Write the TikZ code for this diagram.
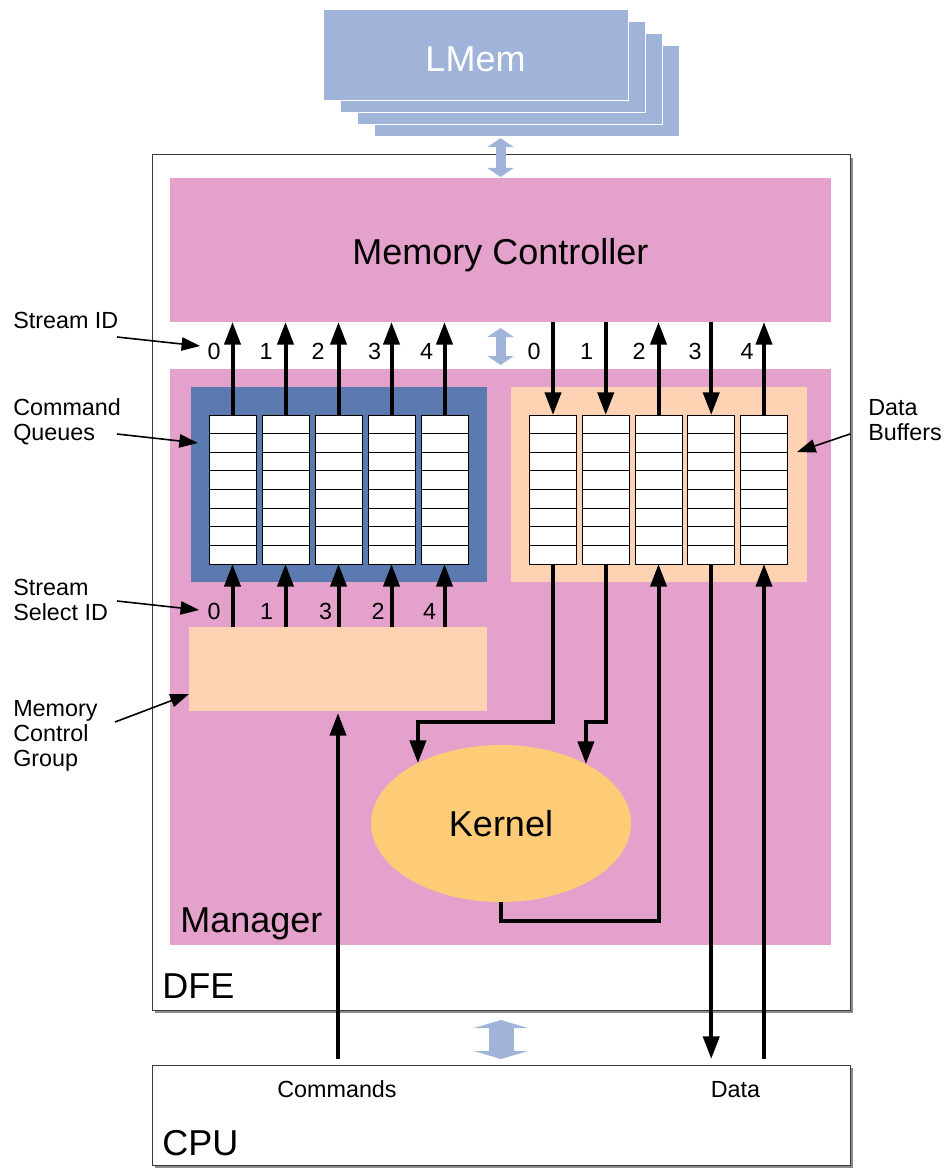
\documentclass[tikz,border=0pt]{standalone}
\usepackage{fontspec}
\setmainfont{Liberation Sans}
\usetikzlibrary{arrows.meta,shapes.geometric,shadows}
\newcommand{\labelfont}{\fontsize{17.5}{19}\selectfont}
\newcommand{\titlefont}{\fontsize{27}{32}\selectfont}
\definecolor{lmemblue}{HTML}{A0B4DA}
\definecolor{ctrlpink}{HTML}{E4A1CB}
\definecolor{queueblue}{HTML}{5B7BB0}
\definecolor{bufpeach}{HTML}{FDD3B4}
\definecolor{kernelgold}{HTML}{FECC77}
\definecolor{framegrey}{HTML}{3A3A3A}

\begin{document}
\begin{tikzpicture}[
  x=0.75pt,
  y=-0.75pt,
  every node/.style={font=\labelfont, black, inner sep=0pt},
  block/.style={inner sep=0pt, outer sep=0pt},
  card/.style={block, fill=white, draw=framegrey, line width=0.75pt,
    drop shadow={shadow xshift=2.25pt, shadow yshift=-2.25pt, fill=black!45, opacity=1}},
  sheet/.style={block, fill=lmemblue, draw=white, line width=0.75pt,
    minimum width=228.75pt, minimum height=68.25pt},
  slot/.style={block, fill=white, draw=black, line width=0.75pt,
    minimum width=35.25pt, minimum height=111.75pt},
  divider/.style={black, line width=0.75pt},
  flow/.style={black, line width=3pt, -{Triangle[length=17pt, width=12pt]}},
  pointer/.style={black, line width=1.2pt, -{Triangle[length=14pt, width=10pt]}},
  link/.style={lmemblue, line width=7.5pt,
    {Triangle[length=6.75pt, width=19.5pt]}-{Triangle[length=6.75pt, width=19.5pt]}},
  widelink/.style={lmemblue, line width=18.75pt,
    {Triangle[length=6pt, width=40.5pt]}-{Triangle[length=6pt, width=40.5pt]}}
]
  % ---- page frame, 946 x 1169 px ----
  \path[use as bounding box] (0,0) rectangle (946,1169);

  % ---- DFE and CPU cards ----
  \node[card, minimum width=523.5pt, minimum height=641.25pt] (dfe) at (501,582.5) {};
  \node[card, minimum width=523.5pt, minimum height=75pt] (cpu) at (501,1115) {};
  \node[anchor=base west, font=\titlefont] (dfelabel) at (162,998) {DFE};
  \node[anchor=base west, font=\titlefont] (cpulabel) at (162,1155) {CPU};

  % ---- LMem stack ----
  \foreach \d in {3,2,1}
    \node[sheet] (sheet\d) at ({475.5+17*\d},{55.5+11.7*\d}) {};
  \node[sheet] (lmem) at (475.5,55.5) {};
  \node[anchor=base, font=\titlefont, text=white] (lmemtext) at (lmem.center |- 0,72) {LMem};

  % ---- memory controller and manager ----
  \node[block, fill=ctrlpink, minimum width=495.75pt, minimum height=108pt] (mc) at (500.5,250) {};
  \node[anchor=base, font=\titlefont] (mctext) at (mc.center |- 0,265) {Memory Controller};
  \node[block, fill=ctrlpink, minimum width=495.75pt, minimum height=432pt] (mgr) at (500.5,657) {};
  \node[anchor=base west, font=\titlefont] (mgrlabel) at (180,932) {Manager};

  % ---- queue and buffer groups ----
  \node[block, fill=queueblue, minimum width=222pt, minimum height=146.25pt] (cq) at (339,484.5) {};
  \node[block, fill=bufpeach, minimum width=222pt, minimum height=146.25pt] (db) at (659,484.5) {};
  \node[block, fill=bufpeach, minimum width=223.5pt, minimum height=63pt] (mcg) at (338,669) {};
  \node[ellipse, block, fill=kernelgold, minimum width=195pt, minimum height=117.75pt,
    font=\titlefont] (kernel) at (501,823.5) {Kernel};

  % ---- slots, eight cells each ----
  \foreach \k in {0,...,4} {
    \node[slot] (q\k) at ({232.5+53*\k},489.5) {};
    \node[slot] (b\k) at ({553+52.75*\k},489.5) {};
    \foreach \r in {1,...,7} {
      \draw[divider] (q\k.north west) ++(0,{18.625*\r}) -- ++(47,0);
      \draw[divider] (b\k.north west) ++(0,{18.625*\r}) -- ++(47,0);
    }
  }

  % ---- stream arrows to and from the memory controller ----
  \foreach \k in {0,...,4} {
    \draw[flow] (q\k.north) -- (q\k.north |- mc.south);
    \draw[flow] (mcg.north -| q\k.south) -- (q\k.south);
  }
  \foreach \k in {0,1,3}
    \draw[flow] (b\k.north |- mc.south) -- (b\k.north);
  \foreach \k in {2,4}
    \draw[flow] (b\k.north) -- (b\k.north |- mc.south);

  % ---- stream numbers ----
  \foreach \n/\x in {0/214,1/266,2/318,3/374.5,4/426.5}
    \node (sid\n) at (\x,351) {\n};
  \foreach \n/\x in {0/534,1/586.5,2/639,3/695,4/747}
    \node (bid\n) at (\x,351) {\n};
  \foreach \n/\x in {0/214,1/266.5,3/325.5,2/378,4/429.5}
    \node (sel\n) at (\x,611.5) {\n};

  % ---- kernel paths ----
  \draw[flow] (b0.south) -- ++(0,158) -| (kernel.144.5);
  \draw[flow] (b1.south) -- ++(0,158) -| (kernel.35.5);
  \draw[flow] (kernel.south) -- ++(0,19) -| (b2.south);

  % ---- host paths ----
  \draw[flow, shorten >=4.5pt] (b3.south) -- (b3.south |- cpu.north);
  \draw[flow, shorten <=4.5pt] (b4.south |- cpu.north) -- (b4.south);
  \draw[flow, shorten <=4.5pt, shorten >=1.5pt] (mcg.south |- cpu.north) -- (mcg.south);
  \node[anchor=base] (cmdlabel) at (337,1097) {Commands};
  \node[anchor=base] (datalabel) at (735.5,1097) {Data};

  % ---- wide links ----
  \draw[link, shorten <=1.5pt, shorten >=0.75pt] (mc.north |- sheet3.south) -- (mc.north);
  \draw[link, shorten <=4.5pt, shorten >=3pt] (mc.south) -- (mgr.north);
  \draw[widelink, shorten <=7.5pt, shorten >=4.5pt] (dfe.south) -- (cpu.north);

  % ---- side labels ----
  \node[anchor=north west] (sidtext) at (13,312) {Stream ID};
  \node[anchor=north west, align=left] (cqtext) at (13,398) {Command\\Queues};
  \node[anchor=north west, align=left] (seltext) at (13,579) {Stream\\Select ID};
  \node[anchor=north west, align=left] (mcgtext) at (13,700) {Memory\\Control\\Group};
  \node[anchor=north west, align=left] (dbtext) at (868,399) {Data\\Buffers};

  \coordinate (sidtail) at (117,337);
  \coordinate (cqtail) at (117,434);
  \coordinate (seltail) at (117,601);
  \coordinate (mcgtail) at (115,722);
  \coordinate (dbtail) at (850,434);
  \draw[pointer] (sidtail) -- ([shift={(-7,-5)}]sid0.west);
  \draw[pointer] (cqtail) -- ([shift={(7,-41.5)}]cq.west);
  \draw[pointer] (seltail) -- ([shift={(-8,-1.5)}]sel0.west);
  \draw[pointer] (mcgtail) -- ([shift={(0,25)}]mcg.west);
  \draw[pointer] (dbtail) -- ([shift={(-10,-32.5)}]db.east);
\end{tikzpicture}
\end{document}
